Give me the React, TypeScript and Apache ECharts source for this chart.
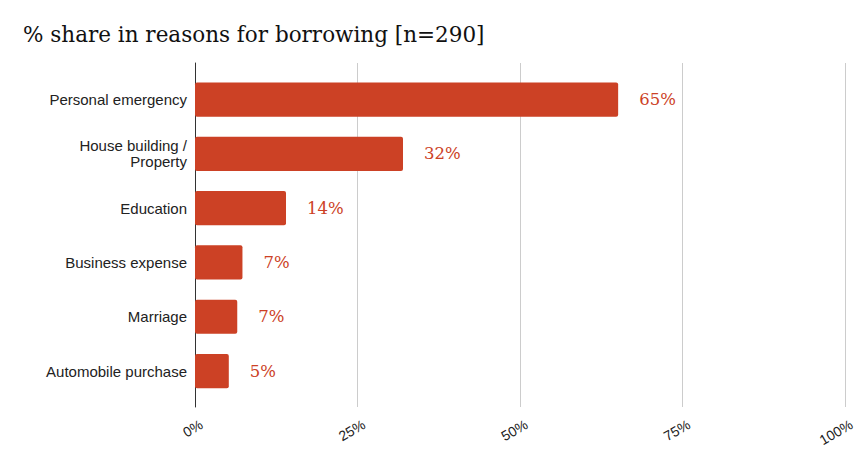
import React, { useEffect, useRef } from "react";
import * as echarts from "echarts";

const TITLE = "% share in reasons for borrowing [n=290]";
const categories = [
  "Personal emergency",
  "House building /\nProperty",
  "Education",
  "Business expense",
  "Marriage",
  "Automobile purchase",
];
const shares = [65.1, 32.0, 14.0, 7.3, 6.5, 5.2];
const xTicks = [0, 25, 50, 75, 100];

export default function App() {
  const ref = useRef<HTMLDivElement>(null);
  useEffect(() => {
    if (!ref.current) return;
    const chart = echarts.init(ref.current, undefined, { renderer: "svg" });
    const BAR = "#cc4125";
    chart.setOption({
      animation: false,
      backgroundColor: "#ffffff",
      title: {
        text: TITLE,
        left: 23,
        top: 24,
        padding: 0,
        textStyle: {
          fontFamily: "DejaVu Serif",
          fontSize: 21.5,
          fontWeight: "normal",
          color: "#111111",
          lineHeight: 21,
        },
      },
      grid: [
        { left: 195, right: 23, top: 72.4, bottom: 64.8 },
        { left: 195, right: 23, top: 63, bottom: 56 },
      ],
      xAxis: [
        {
          gridIndex: 0,
          type: "value",
          min: xTicks[0],
          max: xTicks[xTicks.length - 1],
          interval: 25,
          show: false,
        },
        {
          gridIndex: 1,
          type: "value",
          min: xTicks[0],
          max: xTicks[xTicks.length - 1],
          interval: 25,
          axisLine: { show: false },
          axisTick: { show: false },
          splitLine: { show: true, lineStyle: { color: "#cccccc", width: 1 } },
          axisLabel: {
            formatter: "{value}%",
            rotate: 30,
            margin: 5,
            align: "right",
            verticalAlign: "top",
            padding: [6, 0, 0, 0],
            fontFamily: "Liberation Sans",
            fontSize: 14,
            color: "#222222",
          },
        },
      ],
      yAxis: [
        {
          gridIndex: 0,
          type: "category",
          data: categories,
          inverse: true,
          axisLine: { show: false },
          axisTick: { show: false },
          splitLine: { show: false },
          axisLabel: {
            margin: 8,
            fontFamily: "Liberation Sans",
            fontSize: 15,
            lineHeight: 16,
            color: "#222222",
          },
        },
        {
          gridIndex: 1,
          type: "value",
          min: 0,
          max: 1,
          axisLine: { show: true, lineStyle: { color: "#333333", width: 1 } },
          axisTick: { show: false },
          axisLabel: { show: false },
          splitLine: { show: false },
        },
      ],
      series: [
        {
          type: "bar",
          xAxisIndex: 0,
          yAxisIndex: 0,
          data: shares,
          barCategoryGap: "37%",
          itemStyle: { color: BAR, borderRadius: 2 },
          z: 5,
          label: {
            show: true,
            position: "right",
            distance: 21,
            formatter: (p: any) => Math.round(p.value) + "%",
            fontFamily: "DejaVu Serif",
            fontSize: 16.5,
            color: BAR,
          },
        },
      ],
    });
    return () => chart.dispose();
  }, []);
  return (
    <div
      ref={ref}
      style={{ position: "fixed", left: 0, top: 0, width: 868, height: 463 }}
    />
  );
}
